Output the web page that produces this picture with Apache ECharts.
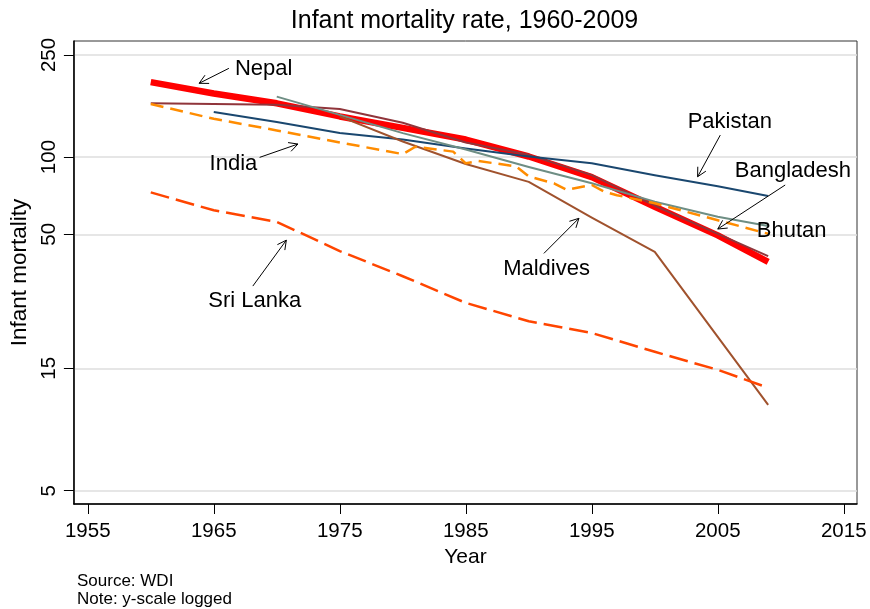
<!DOCTYPE html>
<html><head><meta charset="utf-8">
<script src="https://cdn.jsdelivr.net/npm/echarts@6/dist/echarts.min.js"></script>
<style>html,body{margin:0;padding:0;background:#fff}#c{width:870px;height:609px}</style>
</head><body><div id="c"></div>
<script>
// ---------- data (infant mortality per 1000) ----------
const yTickValues = [5, 15, 50, 100, 250];
const xTickValues = [1955, 1965, 1975, 1985, 1995, 2005, 2015];

const nepalYears  = [1960, 1965, 1970, 1975, 1980, 1985, 1990, 1995, 2000, 2005, 2009];
const nepalValues = [196, 177, 162, 144, 130, 117, 100.5, 83.5, 64, 49.5, 39];

const bangladeshYears  = [1960, 1965, 1970, 1975, 1980, 1985, 1990, 1995, 2000, 2005, 2009];
const bangladeshValues = [162, 161, 160, 154, 136, 114, 102, 85, 64.6, 50.2, 41.1];

const pakistanYears  = [1965, 1970, 1975, 1980, 1985, 1990, 1995, 2000, 2005, 2009];
const pakistanValues = [150, 137, 124, 117, 108, 100.5, 94.5, 85, 77, 70.5];

const bhutanYears  = [1970, 1975, 1980, 1985, 1990, 1995, 2000, 2005, 2009];
const bhutanValues = [172, 146, 124, 107, 91.5, 79, 67, 58.5, 53.8];

const maldivesYears  = [1975, 1980, 1985, 1990, 1995, 2000, 2009];
const maldivesValues = [144, 115, 94, 80, 58, 42.7, 10.8];

const indiaYears  = [1960, 1965, 1970, 1975, 1980, 1981, 1984, 1985, 1986, 1989, 1990, 1992, 1993, 1995, 1996, 1997, 2000, 2005, 2009];
const indiaValues = [161, 141, 127, 114, 102.7, 109.7, 105, 94.5, 96.5, 92, 84, 79, 74.5, 77.8, 73.2, 71, 66, 56.7, 50.2];

const sriLankaYears  = [1960, 1965, 1970, 1975, 1980, 1985, 1990, 1995, 2000, 2005, 2009];
const sriLankaValues = [72.8, 62, 55.9, 43, 34.3, 27, 22.9, 20.6, 17.4, 14.8, 12.6];

// annotation text: [label, year, value]
const labelNames  = ['Nepal', 'India', 'Sri Lanka', 'Maldives', 'Pakistan', 'Bangladesh', 'Bhutan'];
const labelYears  = [1969.0, 1966.6, 1968.3, 1991.45, 2006.0, 2011.0, 2010.9];
const labelValues = [219, 93.5, 27.4, 36.3, 136, 88, 51.4];

// arrows: [yearFrom, valueFrom, yearTo, valueTo]
const arrowFromYears  = [1966.2, 1968.64, 1968.1, 1991.2, 2005.2, 2010.35];
const arrowFromValues = [221.8, 99.7, 31.4, 42.1, 121.8, 77.8];
const arrowToYears    = [1963.84, 1971.68, 1970.76, 1993.98, 2003.4, 2005.0];
const arrowToValues   = [193.9, 112.4, 47.4, 57.7, 83.8, 52.4];

// ---------- chart ----------
const FONT = '"Liberation Sans", Arial, Helvetica, sans-serif';
const toLog = v => Math.log10(v);
const pairs = (xs, vs) => xs.map((x, i) => [x, toLog(vs[i])]);

function lineSeries(name, xs, vs, color, width, dash) {
  return {
    name, type: 'line', data: pairs(xs, vs), symbol: 'none', smooth: false,
    silent: true, animation: false,
    lineStyle: { color, width, type: dash || 'solid', cap: 'butt', join: 'round' }
  };
}

const chart = echarts.init(document.getElementById('c'), null, { renderer: 'canvas' });

const option = {
  animation: false,
  backgroundColor: '#fff',
  title: {
    text: 'Infant mortality rate, 1960-2009',
    left: 459.5, textAlign: 'center', top: 4,
    textStyle: { fontFamily: FONT, fontSize: 25, fontWeight: 'normal', color: '#000' }
  },
  graphic: [{
    type: 'text', left: 77, top: 572,
    style: { text: 'Source: WDI\nNote: y-scale logged', font: '17px ' + FONT, fill: '#000', lineHeight: 18.3 }
  }],
  grid: {
    left: 72, right: 13, top: 41, bottom: 105,
    show: true, borderColor: '#333', borderWidth: 1, backgroundColor: '#fff'
  },
  xAxis: {
    type: 'value', min: 1953.9, max: 2016.05,
    name: 'Year', nameLocation: 'middle', nameGap: 37,
    nameTextStyle: { fontFamily: FONT, fontSize: 21, color: '#000' },
    axisLine: { show: true, lineStyle: { color: '#000', width: 1.5 } },
    axisTick: { show: true, length: 10, inside: false, customValues: xTickValues, lineStyle: { color: '#000', width: 1 } },
    axisLabel: { customValues: xTickValues, margin: 17, fontFamily: FONT, fontSize: 20.5, color: '#000', formatter: v => String(Math.round(v)) },
    splitLine: { show: false }
  },
  yAxis: {
    type: 'value', min: 0.64711, max: 2.45253,
    name: 'Infant mortality', nameLocation: 'middle', nameGap: 30,
    nameTextStyle: { fontFamily: FONT, fontSize: 22.5, color: '#000' },
    axisLine: { show: true, lineStyle: { color: '#000', width: 1.5 } },
    axisTick: { show: true, length: 10, inside: false, customValues: yTickValues.map(toLog), lineStyle: { color: '#000', width: 1 } },
    axisLabel: { customValues: yTickValues.map(toLog), rotate: 90, margin: 14, fontFamily: FONT, fontSize: 20.5, color: '#000',
      formatter: v => String(Math.round(Math.pow(10, v))) },
    splitLine: { show: true, lineStyle: { color: '#dedede', width: 1.6 } }
  },
  series: [
    lineSeries('Nepal', nepalYears, nepalValues, '#ff0000', 6.5),
    lineSeries('Bangladesh', bangladeshYears, bangladeshValues, '#90353b', 2),
    lineSeries('Pakistan', pakistanYears, pakistanValues, '#1a476f', 2),
    lineSeries('Bhutan', bhutanYears, bhutanValues, '#6e8e84', 2),
    lineSeries('Maldives', maldivesYears, maldivesValues, '#a0522d', 2),
    lineSeries('India', indiaYears, indiaValues, '#ff8c00', 2.5, [13, 7]),
    lineSeries('Sri Lanka', sriLankaYears, sriLankaValues, '#ff4500', 2.5, [19, 7]),
    {
      type: 'custom', silent: true, z: 5,
      data: arrowFromYears.map((x, i) => [x, toLog(arrowFromValues[i]), arrowToYears[i], toLog(arrowToValues[i])]),
      encode: { x: [0, 2], y: [1, 3] },
      renderItem: (params, api) => {
        const p1 = api.coord([api.value(0), api.value(1)]);
        const p2 = api.coord([api.value(2), api.value(3)]);
        const ang = Math.atan2(p2[1] - p1[1], p2[0] - p1[0]);
        const L = 10, w = 0.48;
        const h1 = [p2[0] - L * Math.cos(ang - w), p2[1] - L * Math.sin(ang - w)];
        const h2 = [p2[0] - L * Math.cos(ang + w), p2[1] - L * Math.sin(ang + w)];
        return {
          type: 'group', children: [
            { type: 'line', shape: { x1: p1[0], y1: p1[1], x2: p2[0], y2: p2[1] }, style: { stroke: '#000', lineWidth: 1 } },
            { type: 'polyline', shape: { points: [h1, p2, h2] }, style: { stroke: '#000', lineWidth: 1, fill: null } }
          ]
        };
      }
    },
    {
      type: 'scatter', silent: true, z: 6, symbolSize: 1,
      itemStyle: { color: '#000', opacity: 0 },
      data: labelNames.map((n, i) => ({ value: [labelYears[i], toLog(labelValues[i])], name: n })),
      label: { show: true, position: [0, 0], align: 'center', verticalAlign: 'middle', formatter: p => p.name,
        fontFamily: FONT, fontSize: 22, color: '#000', opacity: 1, textBorderWidth: 0 },
      labelLayout: { hideOverlap: false }
    }
  ]
};
chart.setOption(option);
</script>
</body></html>
